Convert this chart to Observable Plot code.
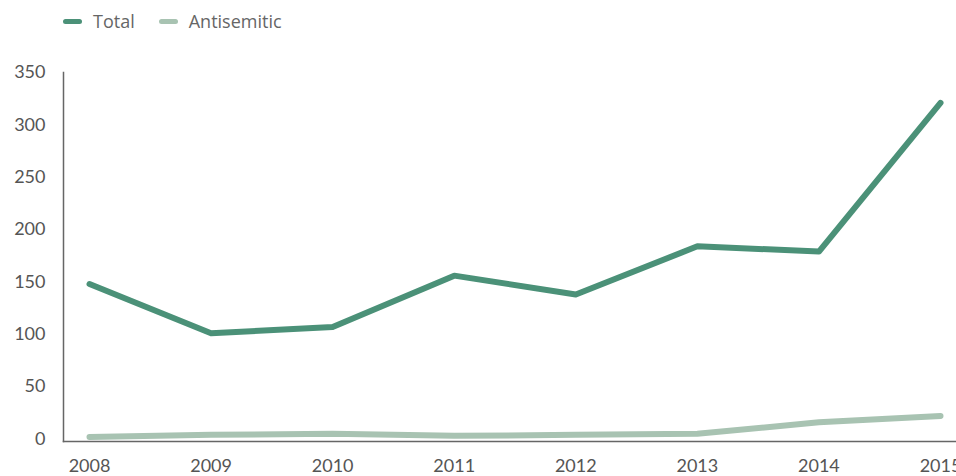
<!DOCTYPE html>
<html>
<head>
<meta charset="utf-8">
<script src="https://cdn.jsdelivr.net/npm/d3@7"></script>
<script src="https://cdn.jsdelivr.net/npm/@observablehq/plot@0.6"></script>
<style>
  html, body { margin: 0; padding: 0; background: #fff; overflow: hidden; width: 956px; height: 476px; }
  #legend { height: 40px; display: flex; align-items: center; font-family: "Open Sans", Lato, sans-serif; font-size: 18px; color: #666; padding-left: 63px; box-sizing: border-box; padding-top: 2px; }
  .item { display: flex; align-items: center; margin-right: 24px; }
  .sw { width: 19px; height: 5px; border-radius: 3px; margin-right: 11px; }
</style>
</head>
<body>
<div id="legend"></div>
<div id="chart"></div>
<script>
const years = [2008, 2009, 2010, 2011, 2012, 2013, 2014, 2015];
const total = [148, 101, 107, 156, 138, 184, 179, 321];
const antisemitic = [2, 4, 5, 3, 4, 5, 16, 22];
const seriesNames = ["Total", "Antisemitic"];
const seriesColors = ["#4b9178", "#a8c3b2"];
const yTicks = [0, 50, 100, 150, 200, 250, 300, 350];

const rows = [];
years.forEach((y, i) => {
  rows.push({year: y, value: total[i], series: seriesNames[0]});
  rows.push({year: y, value: antisemitic[i], series: seriesNames[1]});
});

const legend = document.getElementById("legend");
seriesNames.forEach((n, i) => {
  const it = document.createElement("div");
  it.className = "item";
  it.innerHTML = `<span class="sw" style="background:${seriesColors[i]}"></span><span>${n}</span>`;
  legend.appendChild(it);
});

const chart = Plot.plot({
  width: 956,
  height: 436,
  marginLeft: 63,
  marginRight: 0,
  marginTop: 32,
  marginBottom: 35,
  style: {fontFamily: "Lato, 'Open Sans', sans-serif", fontSize: "18px", color: "#555", background: "#fff"},
  x: {domain: [2008, 2015], insetLeft: 26, insetRight: 16},
  y: {domain: [0, 350], insetBottom: 2.5},
  color: {domain: seriesNames, range: seriesColors},
  marks: [
    Plot.axisY({ticks: yTicks, tickSize: 0, tickPadding: 18, label: null, fill: "#555"}),
    Plot.axisX({ticks: years, tickFormat: d => String(d), tickSize: 0, tickPadding: 18, label: null, fill: "#555"}),
    Plot.frame({anchor: "left", stroke: "#666", strokeWidth: 1.5}),
    Plot.frame({anchor: "bottom", stroke: "#666", strokeWidth: 1.5}),
    Plot.line(rows.filter(d => d.series === seriesNames[1]), {x: "year", y: "value", stroke: "series", strokeWidth: 6, strokeLinecap: "round", strokeLinejoin: "round"}),
    Plot.line(rows.filter(d => d.series === seriesNames[0]), {x: "year", y: "value", stroke: "series", strokeWidth: 6, strokeLinecap: "round", strokeLinejoin: "round"})
  ]
});
document.getElementById("chart").appendChild(chart);
</script>
</body>
</html>
